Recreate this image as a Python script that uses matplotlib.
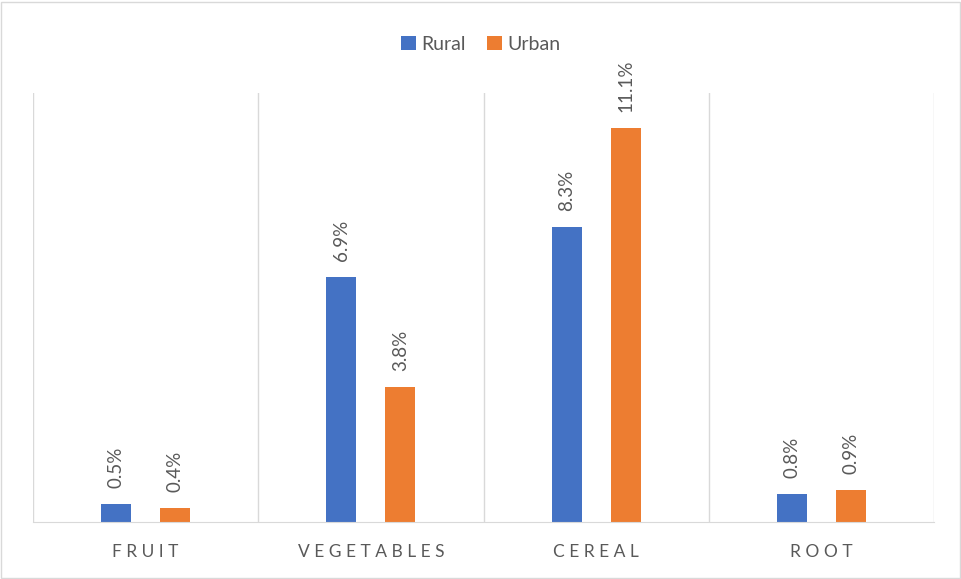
import matplotlib.pyplot as plt
from matplotlib.patches import Rectangle
import numpy as np

plt.rcParams['font.family'] = ['Lato', 'DejaVu Sans']

# data
categories = ['FRUIT', 'VEGETABLES', 'CEREAL', 'ROOT']
rural = [0.5, 6.9, 8.3, 0.8]
urban = [0.4, 3.8, 11.1, 0.9]

blue = '#4472C4'
orange = '#ED7D31'
grey_txt = '#595959'
grid_col = '#D9D9D9'

fig = plt.figure(figsize=(9.62, 5.79), dpi=100)
ax = fig.add_axes([0.0343, 0.0984, 0.9366, 0.741])

x = np.arange(len(categories))
w = 0.133
off = 0.131
b1 = ax.bar(x - off, rural, w, color=blue, label='Rural')
b2 = ax.bar(x + off, urban, w, color=orange, label='Urban')

# value labels, rotated like excel
for bars in (b1, b2):
    for b in bars:
        h = b.get_height()
        ax.annotate(f'{h:.1f}%', (b.get_x() + b.get_width() / 2, h),
                    xytext=(0, 11.5), textcoords='offset points',
                    rotation=90, ha='center', va='bottom',
                    fontsize=13.5, color=grey_txt)

ax.set_xlim(-0.5, 3.5)
ax.set_ylim(0, 12.08)

# vertical gridlines between categories
for gx in np.arange(-0.5, 4, 1):
    ax.axvline(gx, color=grid_col, lw=1, zorder=0)

for s in ['top', 'left', 'right']:
    ax.spines[s].set_visible(False)
ax.spines['bottom'].set_color(grid_col)
ax.set_yticks([])
ax.set_xticks(x)
ax.set_xticklabels([' '.join(c) for c in categories], fontsize=12.5, color=grey_txt)
ax.tick_params(axis='x', length=0, pad=16)

leg = fig.legend(loc='upper center', bbox_to_anchor=(0.5, 0.968), ncol=2,
                 frameon=False, fontsize=14, handlelength=0.75, handleheight=0.75,
                 handletextpad=0.3, columnspacing=1.1)
for t in leg.get_texts():
    t.set_color(grey_txt)

# chart border
fig.patches.append(Rectangle((0.001, 0.002), 0.997, 0.995, transform=fig.transFigure,
                             fill=False, edgecolor=grid_col, lw=1))

fig.savefig('out.png', dpi=100)
